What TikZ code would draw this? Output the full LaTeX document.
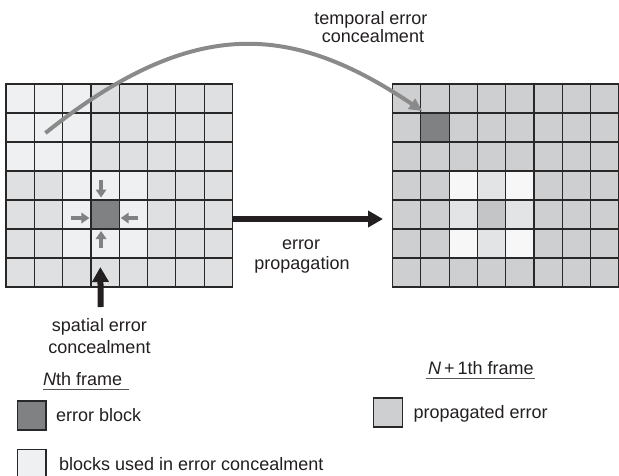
\documentclass[tikz,border=0pt]{standalone}
\usepackage{fontspec}
\setmainfont{Liberation Sans}
\usetikzlibrary{arrows.meta,calc}
\definecolor{lightc}{RGB}{239,240,242}
\definecolor{lgray}{RGB}{223,224,226}
\definecolor{darkc}{RGB}{128,129,131}
\definecolor{rgray}{RGB}{206,207,209}
\definecolor{rvlight}{RGB}{247,247,248}
\definecolor{rlight}{RGB}{227,228,230}
\definecolor{rmid}{RGB}{196,197,199}
\definecolor{arcc}{RGB}{138,138,138}
\definecolor{gridc}{RGB}{40,40,40}
\definecolor{txtc}{RGB}{35,31,32}
\definecolor{ulc}{RGB}{85,85,85}
\begin{document}
\begin{tikzpicture}[x=1pt,y=-1pt,
  every node/.style={font=\fontsize{18}{21}\selectfont, text=txtc},
  cell/.style={minimum width=28.3pt, minimum height=29pt, inner sep=0pt, outer sep=0pt, anchor=north west},
  gridline/.style={draw=gridc, line width=1.2pt, line cap=rect},
  keybox/.style={draw=gridc, line width=1.2pt, minimum width=28.7pt, minimum height=29pt, inner sep=0pt, outer sep=0pt},
  lbl/.style={inner sep=0pt, anchor=base},
  lblw/.style={inner sep=0pt, anchor=base west},
  smallarrow/.style={draw=darkc, line width=4pt, -{Triangle[length=8pt,width=10.5pt]}},
  bigarrow/.style={draw=txtc, line width=6pt, -{Triangle[length=15pt,width=16pt]}},
  arcarrow/.style={draw=arcc, line width=4pt, -{Triangle[length=13pt,width=12pt]}},
  ul/.style={draw=ulc, line width=1.6pt}]
\useasboundingbox (0,0) rectangle (619,475);

% ---------- N-th frame (left grid) ----------
\foreach \r in {0,...,6}{\foreach \c in {0,...,7}{
  \node[cell, fill=lgray] (L\r\c) at ({6+\c*28.3},{84+\r*29}) {};}}
\foreach \r/\c in {0/0,0/1,0/2,1/0,1/1,1/2,2/0,2/1,2/2,3/2,3/3,3/4,4/2,4/4,5/2,5/3,5/4}{
  \node[cell, fill=lightc] (L\r\c) at ({6+\c*28.3},{84+\r*29}) {};}
\node[cell, fill=darkc] (L43) at ({6+3*28.3},{84+4*29}) {};
\foreach \c in {0,...,7}{\draw[gridline] (L0\c.north west) -- (L6\c.south west);}
\draw[gridline] (L07.north east) -- (L67.south east);
\foreach \r in {0,...,6}{\draw[gridline] (L\r0.north west) -- (L\r7.north east);}
\draw[gridline] (L60.south west) -- (L67.south east);

% ---------- N+1-th frame (right grid) ----------
\foreach \r in {0,...,6}{\foreach \c in {0,...,7}{
  \node[cell, fill=rgray] (R\r\c) at ({392.5+\c*28.3},{84+\r*29}) {};}}
\foreach \r/\c in {3/2,3/4,5/2,5/4}{
  \node[cell, fill=rvlight] (R\r\c) at ({392.5+\c*28.3},{84+\r*29}) {};}
\foreach \r/\c in {3/3,4/2,4/4,5/3}{
  \node[cell, fill=rlight] (R\r\c) at ({392.5+\c*28.3},{84+\r*29}) {};}
\node[cell, fill=rmid] (R43) at ({392.5+3*28.3},{84+4*29}) {};
\node[cell, fill=darkc] (R11) at ({392.5+1*28.3},{84+1*29}) {};
\foreach \c in {0,...,7}{\draw[gridline] (R0\c.north west) -- (R6\c.south west);}
\draw[gridline] (R07.north east) -- (R67.south east);
\foreach \r in {0,...,6}{\draw[gridline] (R\r0.north west) -- (R\r7.north east);}
\draw[gridline] (R60.south west) -- (R67.south east);

% ---------- temporal error concealment ----------
\coordinate (tstart) at ($(L11.center)+(-3,5.5)$);
\coordinate (tend) at ($(R11.north west)+(1.5,-2)$);
\draw[arcarrow] (tstart) .. controls +(150,-120) and +(-128,-86) .. (tend);
\node[lbl] (temp1) at (371,24) {temporal error};
\node[lbl] (temp2) at (373,42.5) {concealment};

% ---------- spatial concealment arrows ----------
\draw[smallarrow] ($(L33.center)+(-4,-5.5)$) -- ($(L43.north)+(-4,-2.5)$);
\draw[smallarrow] ($(L53.center)+(-4,4.5)$) -- ($(L43.south)+(-4,2)$);
\draw[smallarrow] ($(L42.center)+(-5.5,3.5)$) -- ($(L43.west)+(-1.5,3.5)$);
\draw[smallarrow] ($(L44.center)+(4.5,3.5)$) -- ($(L43.east)+(1.5,3.5)$);

% ---------- error propagation ----------
\draw[bigarrow] ($(L47.east)+(0,4.5)$) -- ($(R40.west)+(-9.5,4.5)$);
\node[lbl] (prop1) at (301,249) {error};
\node[lbl] (prop2) at (302,269) {propagation};

% ---------- spatial error concealment ----------
\node[lbl] (spat1) at (99.5,331) {spatial error};
\node[lbl] (spat2) at (99.5,353) {concealment};
\coordinate (sbase) at (100.7,307);
\draw[bigarrow] (sbase) -- ($(L63.south)+(-4.7,-20)$);

% ---------- frame labels ----------
\node[lblw] (nth) at (43,385.7) {\textit{N}th frame};
\draw[ul] ($(nth.base west)+(0,3.6)$) -- ($(nth.base east)+(7,3.6)$);
\node[lblw] (n1th) at (428,374) {\textit{N}\,+\,1th frame};
\draw[ul] ($(n1th.base west)+(-2,4.3)$) -- ($(n1th.base east)+(1,4.3)$);

% ---------- legend ----------
\node[keybox, fill=darkc] (kerr) at (31.7,415.5) {};
\node[lblw] (terr) at (56,421.7) {error block};
\node[keybox, fill=rgray] (kprop) at (388.2,412.5) {};
\node[lblw] (tprop) at (413.3,418.3) {propagated error};
\node[keybox, fill=lightc] (kused) at (31.7,463.8) {};
\node[lblw] (tused) at (59,470) {blocks used in error concealment};
\end{tikzpicture}
\end{document}
